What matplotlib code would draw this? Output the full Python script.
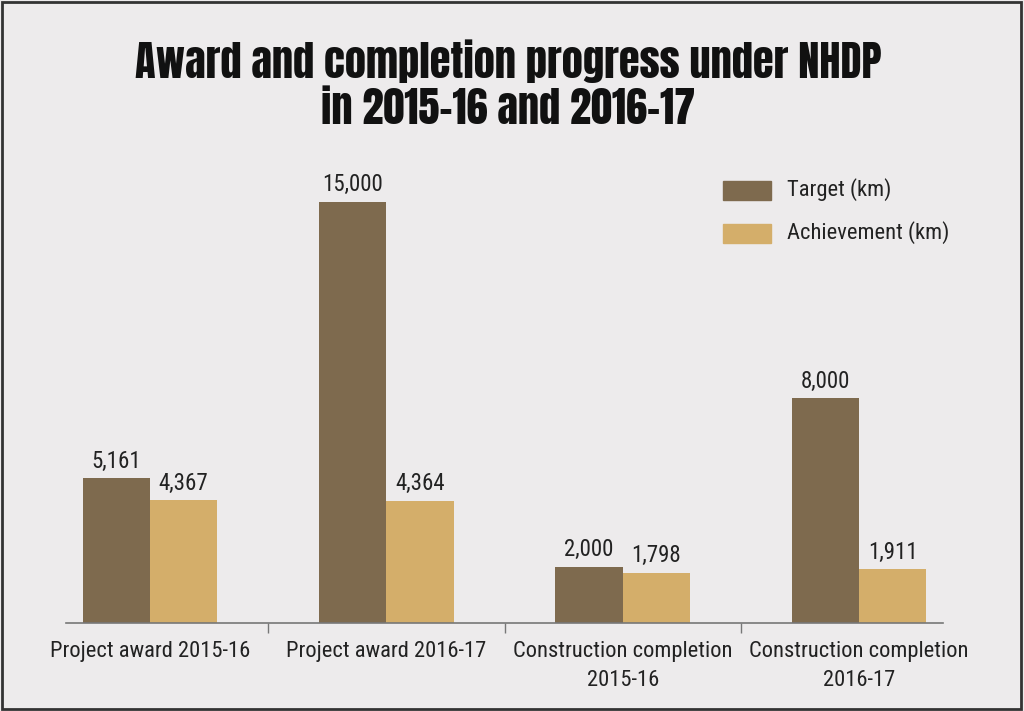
import matplotlib
matplotlib.use("Agg")
import matplotlib.pyplot as plt
from matplotlib.patches import Rectangle
import numpy as np

categories = ["Project award 2015-16", "Project award 2016-17",
              "Construction completion\n2015-16", "Construction completion\n2016-17"]
target = [5161, 15000, 2000, 8000]
achievement = [4367, 4364, 1798, 1911]
series_names = ["Target (km)", "Achievement (km)"]
title = "Award and completion progress under NHDP\nin 2015-16 and 2016-17"

BG = "#EDEBEC"
C_T = "#7E6A4E"
C_A = "#D4AE6A"
FONT = ["Roboto Condensed", "Liberation Sans", "DejaVu Sans"]
TFONT = ["Anton", "Liberation Sans", "DejaVu Sans"]
plt.rcParams['font.family'] = FONT

W, H = 1024, 711
fig = plt.figure(figsize=(W / 100, H / 100), dpi=100, facecolor=BG)

def fx(px):
    return px / W

def fy(py):
    return 1 - py / H

ax = fig.add_axes([fx(66), fy(623), fx(943) - fx(66), fy(150) - fy(623)])
ax.set_facecolor(BG)

x = np.arange(len(categories))
bw = 0.285
b1 = ax.bar(x - bw / 2, target, bw, color=C_T, zorder=2)
b2 = ax.bar(x + bw / 2, achievement, bw, color=C_A, zorder=2)
ax.set_xlim(-0.355, 3.355)
ax.set_ylim(0, 16853)

for bars in (b1, b2):
    for r in bars:
        ax.annotate(f"{int(r.get_height()):,}", (r.get_x() + r.get_width() / 2, r.get_height()),
                    xytext=(0, 4), textcoords="offset points", ha="center", va="bottom",
                    fontsize=16.5, color="#222222")

for s in ["top", "right", "left"]:
    ax.spines[s].set_visible(False)
ax.spines["bottom"].set_color("#777777")
ax.spines["bottom"].set_linewidth(1.2)
ax.set_yticks([])
ax.set_xticks(x)
ax.set_xticklabels(categories, fontsize=16.2, color="#222222", linespacing=1.5)
ax.tick_params(axis="x", which="major", length=0, pad=13)
ax.set_xticks([0.5, 1.5, 2.5], minor=True)
ax.tick_params(axis="x", which="minor", length=7, width=1, color="#777777", direction="out")

fig.text(0.496, fy(84), title, ha="center", va="center", fontsize=30.5,
         color="#111111", linespacing=1.13, family=TFONT)

# legend
for i, (name, col) in enumerate(zip(series_names, [C_T, C_A])):
    cy = 190 + 43 * i
    fig.patches.append(Rectangle((fx(723), fy(cy + 9.5)), fx(48), 19 / H,
                                 transform=fig.transFigure, color=col, figure=fig))
    fig.text(fx(787), fy(cy), name, ha="left", va="center", fontsize=16.2, color="#222222")

# border
fig.patches.append(Rectangle((fx(2), fy(709)), fx(1019), 707 / H, transform=fig.transFigure,
                             fill=False, edgecolor="#333333", linewidth=2, figure=fig))

fig.savefig("out.png", dpi=100, facecolor=BG)
